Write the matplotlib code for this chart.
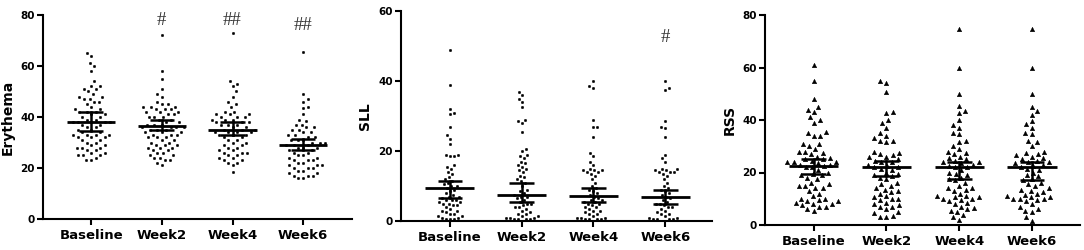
import numpy as np
import matplotlib
matplotlib.use("Agg")
import matplotlib.pyplot as plt

categories = ["Baseline", "Week2", "Week4", "Week6"]

ery_baseline = [65, 64, 61, 60, 58, 54, 52, 52, 51, 51, 50, 49, 48, 48, 47, 47, 46, 46, 45, 44, 43, 43, 42, 42, 42, 41, 41, 40, 40, 39, 39, 38, 38, 38, 38, 38, 37, 37, 36, 36, 35, 35, 34, 34, 33, 33, 33, 33, 32, 32, 32, 31, 31, 30, 30, 29, 29, 28, 28, 28, 27, 27, 26, 26, 25, 25, 25, 24, 23, 23]
ery_week2 = [72, 58, 55, 51, 49, 48, 46, 45, 45, 44, 44, 44, 43, 43, 43, 42, 42, 42, 41, 41, 40, 40, 40, 39, 39, 38, 38, 37, 37, 37, 36, 36, 36, 36, 35, 35, 35, 34, 34, 34, 33, 33, 33, 32, 32, 32, 31, 31, 30, 30, 29, 29, 29, 28, 28, 28, 27, 27, 26, 26, 25, 25, 24, 24, 23, 23, 22, 21]
ery_week4 = [73, 54, 53, 52, 50, 48, 46, 45, 44, 42, 42, 41, 41, 41, 40, 40, 40, 39, 39, 39, 38, 38, 38, 37, 37, 37, 36, 36, 35, 35, 35, 34, 34, 34, 34, 33, 33, 33, 32, 32, 31, 31, 30, 30, 29, 29, 28, 28, 27, 27, 26, 26, 26, 25, 25, 24, 24, 23, 23, 22, 22, 21, 18.5]
ery_week6 = [65.5, 49, 47, 46, 44, 43.5, 41, 39, 38.5, 37, 37, 36, 36, 35, 35, 34, 34, 33, 33, 32, 32, 31, 31, 31, 30, 30, 30, 29, 29, 29, 28, 28, 28, 27, 27, 26, 26, 25, 25, 24, 24, 23, 23, 23, 22, 22, 21, 21, 21, 20, 20, 20, 19, 19, 18, 18, 17, 17, 17, 16, 16]
ery_mean = [38, 36.5, 35, 29]
ery_ci_low = [34.5, 35, 33, 27]
ery_ci_high = [42, 39, 38, 31.5]

sll_baseline = [49, 39, 32, 31, 30.5, 27, 24.5, 23.5, 22, 19, 19, 18.5, 18.5, 16, 15.5, 15, 14, 13.5, 12.5, 12, 11.5, 11, 10.5, 10, 10, 9.5, 9, 8.5, 8, 7.5, 7, 7, 6.5, 6, 6, 6, 5.5, 5.5, 5, 5, 4.5, 4.5, 4, 3.5, 3, 3, 2.5, 2, 2, 1.5, 1.5, 1, 1, 0.5, 0.5, 0.5]
sll_week2 = [37, 36, 35, 34, 32.5, 29, 28.5, 28, 25.5, 20.5, 20, 19, 18.5, 18, 17, 16.5, 16, 15.5, 15, 14.5, 14, 13, 12.5, 12, 11.5, 11, 10, 9, 8.5, 8, 7.5, 7, 7, 6.5, 6, 5.5, 5, 5, 4.5, 4, 4, 3.5, 3, 2.5, 2, 2, 1.5, 1.5, 1, 1, 1, 0.5, 0.5, 0.5, 0.5, 0]
sll_week4 = [40, 38.5, 38, 29, 27, 27, 24, 19.5, 18.5, 17, 16, 15, 14.5, 14.5, 14.5, 14, 14, 13.5, 13, 12, 11, 10, 9.5, 9, 8.5, 8, 7.5, 7, 6.5, 6, 6, 5.5, 5.5, 5, 5, 4.5, 4, 4, 3.5, 3, 3, 2.5, 2, 2, 1.5, 1, 1, 1, 0.5, 0.5, 0.5, 0.5, 0]
sll_week6 = [40, 38, 37.5, 28.5, 27, 26.5, 24, 19, 18, 17, 15, 15, 14.5, 14.5, 14, 14, 14, 13.5, 13, 12, 11, 10, 9.5, 9, 8.5, 8, 7.5, 7, 6.5, 6, 5.5, 5, 5, 4.5, 4, 4, 3.5, 3, 2.5, 2, 2, 1.5, 1, 1, 0.5, 0.5, 0.5, 0.5, 0, 0]
sll_mean = [9.5, 7.3, 7.2, 7.0]
sll_ci_low = [6.5, 5.3, 5.3, 5.0]
sll_ci_high = [11.5, 11.0, 9.5, 9.0]

rss_baseline = [61, 55, 48, 45, 44, 43, 41, 40, 39, 35.5, 35, 34, 34, 31, 31, 30, 29, 28, 28, 27.5, 27, 26, 25.5, 25, 25, 24.5, 24, 24, 24, 23.5, 23, 23, 22.5, 22, 22, 21, 20, 19.5, 19, 19, 18, 17.5, 16, 15.5, 15, 15, 14, 14, 13, 12, 11, 10, 10, 9.5, 9, 9, 8.5, 8, 8, 7.5, 7, 7, 6, 5.5]
rss_week2 = [55, 54, 50.5, 43, 42.5, 40, 39, 37, 35, 34, 33, 32, 32, 31.5, 28, 27.5, 27, 26.5, 26, 26, 25, 24.5, 24, 24, 23, 22.5, 22, 22, 21.5, 21, 20, 19.5, 19, 18.5, 18, 17.5, 16, 15.5, 15, 14, 13.5, 13, 12.5, 12, 11, 10.5, 10, 10, 9.5, 8.5, 8, 7.5, 7, 7, 6, 5, 4.5, 3.5, 3, 3]
rss_week4 = [74.5, 60, 50, 45.5, 43.5, 42.5, 40, 38, 37, 35, 34.5, 32, 31.5, 30, 29, 28, 27.5, 27, 26, 25.5, 25, 24.5, 24, 24, 23.5, 23, 22.5, 22, 22, 21, 20, 19.5, 19, 18, 17.5, 17, 16, 15, 14, 14, 13.5, 13, 12, 11, 11, 10.5, 10.5, 10, 10, 9.5, 9, 8.5, 8, 7, 6.5, 6, 5.5, 5, 4, 3, 2]
rss_week6 = [74.5, 60, 50, 45, 43.5, 42, 39.5, 38.5, 37, 35, 34.5, 32, 31.5, 30, 28, 27.5, 27, 26.5, 26, 25.5, 25, 24.5, 24, 24, 23.5, 23, 22.5, 22, 21.5, 21, 20, 19, 18.5, 17.5, 17, 16, 15.5, 15, 14, 13.5, 13, 12.5, 12, 11.5, 11, 10.5, 10.5, 10, 10, 10, 9.5, 9, 8, 7, 6, 5.5, 5, 3, 1.5]
rss_mean = [22.5, 22, 22, 22]
rss_ci_low = [19.5, 18.5, 17.5, 17]
rss_ci_high = [25, 24.5, 24, 24]

ery_marks = ["", "#", "##", "##"]
ery_mark_y = [78, 78, 78, 76]
sll_marks = ["", "", "", "#"]
sll_mark_y = [0, 0, 0, 52.5]

W, H = 1084, 250
fig = plt.figure(figsize=(W / 100, H / 100), dpi=100)


def axrect(l, r, t, b):
    return [l / W, 1 - b / H, (r - l) / W, (b - t) / H]


def beeswarm(ax, xc, values, dx, dy):
    # greedy placement in pixel space with an elliptical exclusion zone
    vals = np.asarray(values, float)
    order = np.argsort(vals)
    pts_px = ax.transData.transform(np.column_stack([np.full(len(vals), xc), vals]))
    placed = []
    xs = np.zeros(len(vals))
    step = 0.5
    for i in order:
        px, py = pts_px[i]
        k = 0
        while True:
            cands = [0.0] if k == 0 else [k * step, -k * step]
            if len(placed) % 2 == 1 and k > 0:
                cands = cands[::-1]
            ok_c = None
            for c in cands:
                ok = True
                for (qx, qy) in placed:
                    if ((px + c - qx) / dx) ** 2 + ((py - qy) / dy) ** 2 < 1:
                        ok = False
                        break
                if ok:
                    ok_c = c
                    break
            if ok_c is not None:
                placed.append((px + ok_c, py))
                xs[i] = px + ok_c
                break
            k += 1
    data = ax.transData.inverted().transform(np.column_stack([xs, pts_px[:, 1]]))
    return data[:, 0], vals


def panel(rect, xlim, ylim, yticks, ylabel, groups, means, lo, hi, marker, ms, dx, dy,
          marks=None, mark_y=None):
    ax = fig.add_axes(rect)
    ax.set_xlim(*xlim)
    ax.set_ylim(*ylim)
    for s in ["top", "right"]:
        ax.spines[s].set_visible(False)
    for s in ["left", "bottom"]:
        ax.spines[s].set_linewidth(1.5)
    ax.set_yticks(yticks)
    ax.set_yticklabels([str(v) for v in yticks], fontsize=7.5, fontweight="bold")
    ax.set_xticks(range(len(categories)))
    ax.set_xticklabels(categories, fontsize=9.5, fontweight="bold")
    ax.tick_params(axis="both", width=1.5, length=4, direction="out", pad=2)
    ax.tick_params(axis="x", pad=3)
    ax.set_ylabel(ylabel, fontsize=10, fontweight="bold", labelpad=4)
    fig.canvas.draw()
    for i, g in enumerate(groups):
        xs, ys = beeswarm(ax, i, g, dx, dy)
        ax.plot(xs, ys, linestyle="none", marker=marker, ms=ms, color="black",
                mec="black", mew=0.3, zorder=2)
        ax.plot([i - 0.34, i + 0.34], [means[i]] * 2, color="black", lw=2, zorder=3,
                solid_capstyle="butt")
        ax.plot([i, i], [lo[i], hi[i]], color="black", lw=1.8, zorder=3)
        for v in (lo[i], hi[i]):
            ax.plot([i - 0.17, i + 0.17], [v, v], color="black", lw=1.8, zorder=3,
                    solid_capstyle="butt")
        if marks and marks[i]:
            ax.text(i, mark_y[i], marks[i], ha="center", va="center", fontsize=13.5,
                    color="#333333", family="Liberation Serif")
    return ax


panel(axrect(43, 352, 15, 219), (-0.68, 3.69), (0, 80), [0, 20, 40, 60, 80], "Erythema",
      [ery_baseline, ery_week2, ery_week4, ery_week6], ery_mean, ery_ci_low, ery_ci_high,
      "o", 1.8, 4.8, 6.0, ery_marks, ery_mark_y)
panel(axrect(401, 712, 11, 221), (-0.68, 3.65), (0, 60), [0, 20, 40, 60], "SLL",
      [sll_baseline, sll_week2, sll_week4, sll_week6], sll_mean, sll_ci_low, sll_ci_high,
      "o", 1.8, 4.0, 5.0, sll_marks, sll_mark_y)
panel(axrect(765, 1080, 15, 225), (-0.67, 3.66), (0, 80), [0, 20, 40, 60, 80], "RSS",
      [rss_baseline, rss_week2, rss_week4, rss_week6], rss_mean, rss_ci_low, rss_ci_high,
      "^", 3.3, 6.3, 6.5)

fig.savefig("out.png", dpi=100)
